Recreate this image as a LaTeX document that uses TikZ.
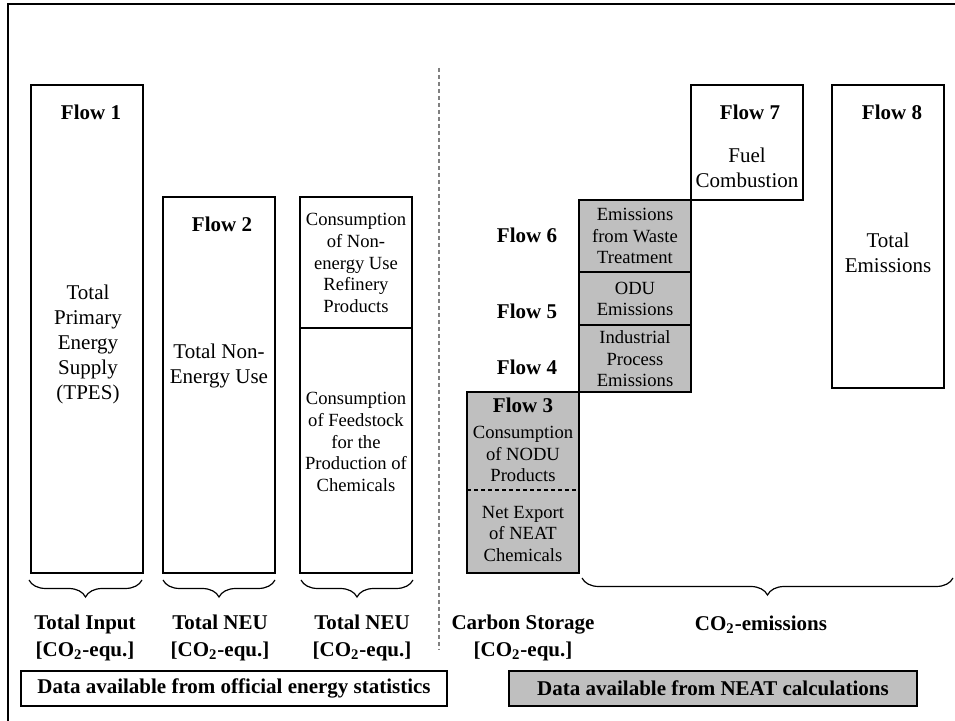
\documentclass[tikz,border=0pt]{standalone}
\usepackage{fontspec}
\setmainfont{Liberation Serif}
\usetikzlibrary{decorations.pathreplacing}

\begin{document}
\begin{tikzpicture}[
    x=0.5pt, y=-0.5pt,
    box/.style={draw, line width=0.6pt},
    shaded/.style={box, fill=gray!50},
    txt/.style={align=center, inner sep=0pt, font=\fontsize{10.5}{12.5}\selectfont},
    smalltxt/.style={align=center, inner sep=0pt, font=\fontsize{9.3}{10.8}\selectfont},
    flow/.style={align=center, inner sep=0pt, font=\fontsize{10.5}{13.5}\selectfont\bfseries},
    brace/.style={decorate, decoration={brace, mirror, amplitude=8.5pt}, line width=0.6pt}
]
    \useasboundingbox (0,0) rectangle (955,721);

    % Outer frame (cut off at the right and bottom)
    \draw[line width=1pt] (955,4) -- (8,4) -- (8,721);

    % Separator between statistics and NEAT side
    \coordinate (septop) at (439,68);
    \coordinate (sepbot) at (439,650);
    \draw[gray, line width=0.6pt, dash pattern=on 2pt off 1.5pt] (septop) -- (sepbot);

    % Left side: official energy statistics
    \draw[box] (31,85) rectangle (143,573);
    \draw[box] (163,197) rectangle (275,573);
    \draw[box] (300,197) rectangle (412,573);
    \draw[box] (300,328) -- (412,328);

    \node[flow] (f1) at (91,112) {Flow 1};
    \node[txt]  (tpes) at (88,344) {Total\\Primary\\Energy\\Supply\\(TPES)};
    \node[flow] (f2) at (222,224) {Flow 2};
    \node[txt]  (neu) at (219,366) {Total Non-\\Energy Use};
    \node[smalltxt] (refin) at (356,263) {Consumption\\of Non-\\energy Use\\Refinery\\Products};
    \node[smalltxt] (feed) at (356,442) {Consumption\\of Feedstock\\for the\\Production of\\Chemicals};

    % Right side: NEAT calculations
    \draw[shaded] (467,392) rectangle (579,573);
    \draw[box, dash pattern=on 2pt off 1.5pt] (467,490) -- (579,490);
    \draw[shaded] (579,200) rectangle (691,392);
    \draw[box] (579,272) -- (691,272);
    \draw[box] (579,325) -- (691,325);
    \draw[box] (691,85) rectangle (803,200);
    \draw[box] (832,85) rectangle (944,388);

    \node[flow] (f3) at (523,405) {Flow 3};
    \node[smalltxt] (nodu) at (523,454) {Consumption\\of NODU\\Products};
    \node[smalltxt] (nexp) at (523,534) {Net Export\\of NEAT\\Chemicals};
    \node[flow] (f4) at (527,367) {Flow 4};
    \node[flow] (f5) at (527,311) {Flow 5};
    \node[flow] (f6) at (527,235) {Flow 6};
    \node[smalltxt] (ipe) at (635,359) {Industrial\\Process\\Emissions};
    \node[smalltxt] (odu) at (635,299) {ODU\\Emissions};
    \node[smalltxt] (waste) at (635,236) {Emissions\\from Waste\\Treatment};
    \node[flow] (f7) at (750,112) {Flow 7};
    \node[txt]  (fuel) at (747,168) {Fuel\\Combustion};
    \node[flow] (f8) at (892,112) {Flow 8};
    \node[txt]  (temis) at (888,253) {Total\\Emissions};

    % Braces
    \draw[brace] (29,580) -- (142,580);
    \draw[brace] (163,580) -- (275,580);
    \draw[brace] (301,580) -- (413,580);
    \draw[brace] (582,578) -- (953,578);

    % Units below the braces
    \node[flow] (u1) at (85,638) {Total Input\\{[CO\textsubscript{2}-equ.]}};
    \node[flow] (u2) at (220,638) {Total NEU\\{[CO\textsubscript{2}-equ.]}};
    \node[flow] (u3) at (362,638) {Total NEU\\{[CO\textsubscript{2}-equ.]}};
    \node[flow] (u4) at (523,638) {Carbon Storage\\{[CO\textsubscript{2}-equ.]}};
    \node[flow] (u5) at (761,625) {CO\textsubscript{2}-emissions};

    % Legend boxes
    \draw[box] (21,671) rectangle (447,706);
    \node[flow] (lstat) at (234,688.5) {Data available from official energy statistics};
    \draw[shaded] (509,671) rectangle (917,706);
    \node[flow] (lneat) at (713,688.5) {Data available from NEAT calculations};
\end{tikzpicture}
\end{document}
